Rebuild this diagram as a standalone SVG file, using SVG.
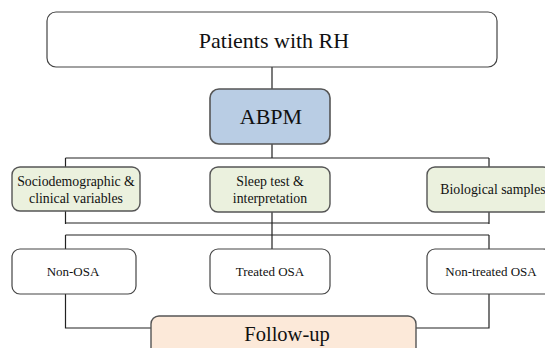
<svg xmlns="http://www.w3.org/2000/svg" width="545" height="348" viewBox="0 0 545 348">
<style>
.t{font-family:"Liberation Serif","Times New Roman",serif;fill:#111;text-anchor:middle}
.w{fill:#fff;stroke:#444;stroke-width:1.2}
.b{fill:#b9cde4;stroke:#555;stroke-width:1.6}
.g{fill:#ebf1de;stroke:#555;stroke-width:1.4}
.o{fill:#fce9d9;stroke:#555;stroke-width:1.4}
.c{fill:none;stroke:#222;stroke-width:1.2}
</style>
<rect width="545" height="348" fill="#fff"/>
<g id="connectors">
<path class="c" d="M272 67V89"/>
<path class="c" d="M272 144V158M65.5 158H489M65.5 158V224M489 158V224M65.5 223H489"/>
<path class="c" d="M272 211V249M65.5 235H489M65.5 235V250M489 235V250"/>
<path class="c" d="M65.5 294V328H152M489 294V328H416"/>
</g>
<g id="patients"><rect class="w" x="47" y="12" width="450" height="55" rx="9"/><text class="t" x="274" y="48" font-size="22">Patients with RH</text></g>
<g id="abpm"><rect class="b" x="210" y="89" width="120" height="55" rx="9"/><text class="t" x="271" y="124" font-size="22">ABPM</text></g>
<g id="socio"><rect class="g" x="12" y="167" width="128" height="44" rx="8"/><text class="t" x="76" y="186" font-size="13.8">Sociodemographic &amp;</text><text class="t" x="76" y="203" font-size="13.8">clinical variables</text></g>
<g id="sleep"><rect class="g" x="210" y="167" width="120" height="45" rx="8"/><text class="t" x="270" y="186" font-size="13.8">Sleep test &amp;</text><text class="t" x="270" y="203" font-size="13.8">interpretation</text></g>
<g id="bio"><rect class="g" x="427" y="167" width="124" height="45" rx="8"/><text class="t" x="493" y="194" font-size="13.8">Biological samples</text></g>
<g id="nonosa"><rect class="w" x="12" y="249" width="124" height="45" rx="8"/><text class="t" x="73" y="276" font-size="13">Non-OSA</text></g>
<g id="treated"><rect class="w" x="210" y="249" width="120" height="45" rx="8"/><text class="t" x="270" y="276" font-size="13">Treated OSA</text></g>
<g id="nontreated"><rect class="w" x="427" y="249" width="124" height="45" rx="8"/><text class="t" x="491" y="276" font-size="13">Non-treated OSA</text></g>
<g id="followup"><rect class="o" x="151" y="316" width="265" height="45" rx="8"/><text class="t" x="287" y="341" font-size="20.5">Follow-up</text></g>
</svg>
